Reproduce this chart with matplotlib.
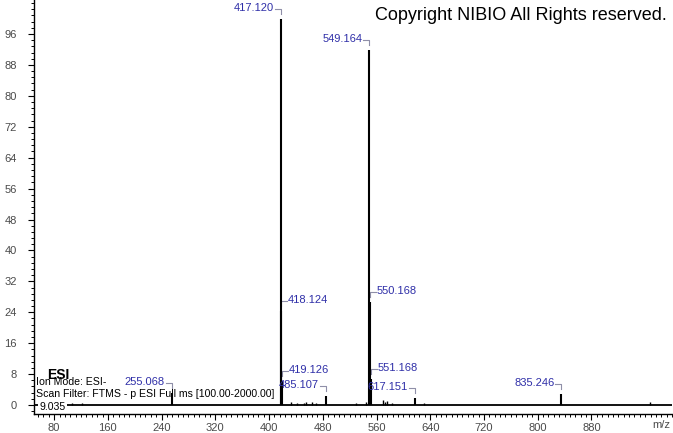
import numpy as np
import matplotlib
matplotlib.use("Agg")
import matplotlib.pyplot as plt
from matplotlib.ticker import MultipleLocator
from matplotlib.transforms import IdentityTransform

plt.rcParams['font.family'] = ['Liberation Sans', 'DejaVu Sans']

# labelled peaks: m/z, relative abundance, which side the label sits on
peak_mz = [255.068, 417.120, 418.124, 419.126, 485.107, 549.164, 550.168, 551.168, 617.151, 835.246]
peak_int = [3.0, 100.0, 24.3, 6.2, 2.3, 91.8, 26.6, 6.7, 1.8, 2.8]
peak_side = ['left', 'left', 'right', 'right', 'left', 'left', 'right', 'right', 'left', 'left']

# small unlabelled peaks
minor_mz = [107, 121, 433, 441, 452, 455, 464, 470, 530, 545, 569, 573, 576, 583, 631, 967]
minor_int = [0.6, 0.5, 0.8, 0.5, 0.6, 0.7, 0.9, 0.5, 0.6, 0.7, 1.3, 0.8, 1.1, 0.6, 0.6, 0.8]

x_ticks = [80, 160, 240, 320, 400, 480, 560, 640, 720, 800, 880]
y_ticks = [0, 8, 16, 24, 32, 40, 48, 56, 64, 72, 80, 88, 96]

xlim = (50, 1000)
ylim = (-2.33, 104.8)

W, H = 673, 433
fig = plt.figure(figsize=(W / 100, H / 100), dpi=100)
ax = fig.add_axes([34 / W, 19 / H, 638 / W, 414 / H])


def px(x, y):
    return x / W, 1 - y / H


ax.set_xlim(*xlim)
ax.set_ylim(*ylim)

ax.hlines(0, xlim[0], xlim[1], color='k', lw=1.3, zorder=2)
ax.vlines(peak_mz, 0, peak_int, color='k', lw=1.5, zorder=3)
ax.vlines(minor_mz, 0, minor_int, color='k', lw=1.0, zorder=3)

for s in ['top', 'right']:
    ax.spines[s].set_visible(False)
ax.spines['left'].set_linewidth(1.0)
ax.spines['bottom'].set_linewidth(1.0)

ax.set_xticks(x_ticks)
ax.set_yticks(y_ticks)
ax.yaxis.set_minor_locator(MultipleLocator(1.6))
ax.xaxis.set_minor_locator(MultipleLocator(8))
ax.tick_params(which='major', length=4.3, width=0.8, labelsize=8, labelcolor='#4a4a4a')
ax.tick_params(which='minor', length=2.2, width=0.7)
ax.tick_params(axis='y', which='major', pad=8)
ax.tick_params(axis='x', which='major', pad=2)

# peak annotations with little brackets
fig.canvas.draw()
ident = IdentityTransform()
for mz, h, side in zip(peak_mz, peak_int, peak_side):
    x0, y0 = ax.transData.transform((mz, h))
    top = y0 + 10
    if side == 'left':
        ax.plot([x0 - 6, x0, x0], [top, top, top - 5], transform=ident,
                color='#8f8fa8', lw=0.8, clip_on=False)
        ax.text(x0 - 7, top + 1, '%.3f' % mz, transform=ident, ha='right', va='center',
                fontsize=8, color='#2f2fa8')
    else:
        ax.plot([x0 + 6, x0, x0], [top, top, top - 5], transform=ident,
                color='#8f8fa8', lw=0.8, clip_on=False)
        ax.text(x0 + 7, top + 1, '%.3f' % mz, transform=ident, ha='left', va='center',
                fontsize=8, color='#2f2fa8')

fig.text(*px(667, 15), 'Copyright NIBIO All Rights reserved.', ha='right', va='center',
         fontsize=13, color='black')
fig.text(*px(670, 425), 'm/z', ha='right', va='center', fontsize=8, color='#4a4a4a')

fig.text(*px(47, 375), 'ESI', ha='left', va='center', fontsize=10, fontweight='bold')
fig.text(*px(36, 382), 'Ion Mode: ESI-', ha='left', va='center', fontsize=7.6)
fig.text(*px(36, 394), 'Scan Filter: FTMS - p ESI Full ms [100.00-2000.00]', ha='left',
         va='center', fontsize=7.6)
fig.text(*px(39, 407), '9.035', ha='left', va='center', fontsize=7.6,
         bbox=dict(fc='white', ec='none', pad=1), zorder=5)

fig.savefig('out.png', dpi=100)
